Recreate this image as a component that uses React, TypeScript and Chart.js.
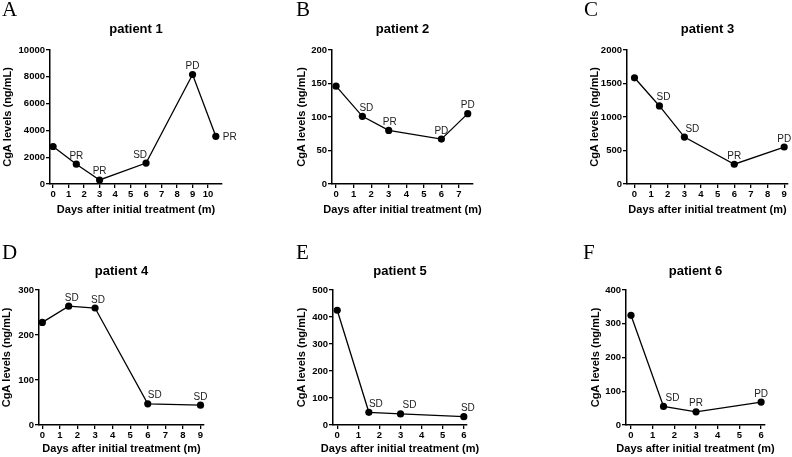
import React, { useEffect, useRef } from 'react';
import { Chart, registerables } from 'chart.js';
Chart.register(...registerables);

const FONT = "'Liberation Sans', Arial, Helvetica, sans-serif";
const SERIF = "'Liberation Serif', 'Times New Roman', serif";

// ---- data ----
const months1 = [0, 1.5, 3, 6, 9, 10.5];
const cga1 = [2800, 1480, 300, 1560, 8170, 3560];
const response1 = ['', 'PR', 'PR', 'SD', 'PD', 'PR'];
const xTicks1 = [0, 1, 2, 3, 4, 5, 6, 7, 8, 9, 10];
const yTicks1 = [0, 2000, 4000, 6000, 8000, 10000];

const months2 = [0, 1.5, 3, 6, 7.5];
const cga2 = [146, 101, 80, 67, 105];
const response2 = ['', 'SD', 'PR', 'PD', 'PD'];
const xTicks2 = [0, 1, 2, 3, 4, 5, 6, 7];
const yTicks2 = [0, 50, 100, 150, 200];

const months3 = [0, 1.5, 3, 6, 9];
const cga3 = [1585, 1165, 700, 295, 552];
const response3 = ['', 'SD', 'SD', 'PR', 'PD'];
const xTicks3 = [0, 1, 2, 3, 4, 5, 6, 7, 8, 9];
const yTicks3 = [0, 500, 1000, 1500, 2000];

const months4 = [0, 1.5, 3, 6, 9];
const cga4 = [228, 264, 260, 47, 44];
const response4 = ['', 'SD', 'SD', 'SD', 'SD'];
const xTicks4 = [0, 1, 2, 3, 4, 5, 6, 7, 8, 9];
const yTicks4 = [0, 100, 200, 300];

const months5 = [0, 1.5, 3, 6];
const cga5 = [425, 47, 41, 31];
const response5 = ['', 'SD', 'SD', 'SD'];
const xTicks5 = [0, 1, 2, 3, 4, 5, 6];
const yTicks5 = [0, 100, 200, 300, 400, 500];

const months6 = [0, 1.5, 3, 6];
const cga6 = [325, 55, 39, 68];
const response6 = ['', 'SD', 'PR', 'PD'];
const xTicks6 = [0, 1, 2, 3, 4, 5, 6];
const yTicks6 = [0, 100, 200, 300, 400];

const titles = ['patient 1', 'patient 2', 'patient 3', 'patient 4', 'patient 5', 'patient 6'];
const letters = ['A', 'B', 'C', 'D', 'E', 'F'];
const xTitle = 'Days after initial treatment (m)';
const yTitle = 'CgA levels (ng/mL)';

// ---- layout (not data) ----
type Layout = {
  col: number; row: number;
  l: number; r: number; t: number; b: number;
  xMin: number; xMax: number;
  yTitleX: number; xTitleY: number; titleY: number;
  letterX: number; letterY: number;
  nudge: (number | 'right')[];
};

const layouts: Layout[] = [
  { col: 0, row: 0, l: 50, r: 222, t: 50, b: 184, xMin: -0.2, xMax: 10.9, yTitleX: 8, xTitleY: 210, titleY: 33, letterX: 2, letterY: 16, nudge: [0, 0, 0, -6, 0, 'right'] },
  { col: 1, row: 0, l: 68, r: 209, t: 50, b: 184, xMin: -0.23, xMax: 7.8, yTitleX: 38, xTitleY: 210, titleY: 33, letterX: 32, letterY: 16, nudge: [0, 4, 1, 0, 0] },
  { col: 2, row: 0, l: 99, r: 260, t: 50, b: 184, xMin: -0.45, xMax: 9.23, yTitleX: 67, xTitleY: 210, titleY: 33, letterX: 56, letterY: 16, nudge: [0, 4, 8, 0, 0] },
  { col: 0, row: 1, l: 39, r: 204, t: 62, b: 197, xMin: -0.19, xMax: 9.2, yTitleX: 7, xTitleY: 221, titleY: 47, letterX: 2, letterY: 31, nudge: [0, 3, 3, 7, 0] },
  { col: 1, row: 1, l: 69, r: 203, t: 62, b: 197, xMin: -0.2, xMax: 6.15, yTitleX: 38, xTitleY: 221, titleY: 47, letterX: 32, letterY: 31, nudge: [0, 7, 9, 4] },
  { col: 2, row: 1, l: 98, r: 237, t: 62, b: 197, xMin: -0.23, xMax: 6.18, yTitleX: 68, xTitleY: 221, titleY: 47, letterX: 55, letterY: 31, nudge: [0, 9, 0, 0] },
];

const series = [
  { months: months1, cga: cga1, response: response1, xTicks: xTicks1, yTicks: yTicks1 },
  { months: months2, cga: cga2, response: response2, xTicks: xTicks2, yTicks: yTicks2 },
  { months: months3, cga: cga3, response: response3, xTicks: xTicks3, yTicks: yTicks3 },
  { months: months4, cga: cga4, response: response4, xTicks: xTicks4, yTicks: yTicks4 },
  { months: months5, cga: cga5, response: response5, xTicks: xTicks5, yTicks: yTicks5 },
  { months: months6, cga: cga6, response: response6, xTicks: xTicks6, yTicks: yTicks6 },
];

const W = 264;

function Panel({ idx }: { idx: number }) {
  const ref = useRef<HTMLCanvasElement>(null);
  const lay = layouts[idx];
  const s = series[idx];
  const H = lay.row === 0 ? 228 : 229;

  useEffect(() => {
    if (!ref.current) return;
    const lineH = 11 * 1.2;
    const annot = {
      id: 'annot' + idx,
      afterDraw(chart: any) {
        const ctx = chart.ctx;
        const { left, right } = chart.chartArea;
        ctx.save();
        ctx.fillStyle = '#000';
        ctx.font = `21px ${SERIF}`;
        ctx.textAlign = 'left';
        ctx.textBaseline = 'alphabetic';
        ctx.fillText(letters[idx], lay.letterX, lay.letterY);
        ctx.font = `bold 13px ${FONT}`;
        ctx.textAlign = 'center';
        ctx.fillText(titles[idx], (left + right) / 2, lay.titleY);
        ctx.font = `bold 11px ${FONT}`;
        ctx.textBaseline = 'middle';
        ctx.fillText(xTitle, (left + right) / 2, lay.xTitleY);
        const meta = chart.getDatasetMeta(0);
        ctx.font = `10px ${FONT}`;
        ctx.fillStyle = '#222';
        meta.data.forEach((pt: any, i: number) => {
          const txt = s.response[i];
          if (!txt) return;
          const nd = lay.nudge[i];
          if (nd === 'right') {
            ctx.textAlign = 'left';
            ctx.textBaseline = 'middle';
            ctx.fillText(txt, pt.x + 7, pt.y + 1);
          } else {
            ctx.textAlign = 'center';
            ctx.textBaseline = 'alphabetic';
            ctx.fillText(txt, pt.x + (nd as number), pt.y - 5.5);
          }
        });
        ctx.restore();
      },
    };

    const chart = new Chart(ref.current, {
      type: 'line',
      data: {
        datasets: [
          {
            data: s.months.map((m, i) => ({ x: m, y: s.cga[i] })),
            borderColor: '#000',
            borderWidth: 1.3,
            backgroundColor: '#000',
            pointBackgroundColor: '#000',
            pointBorderWidth: 0,
            pointRadius: 3.6,
            tension: 0,
            clip: false as any,
          },
        ],
      },
      options: {
        responsive: false,
        animation: false,
        devicePixelRatio: 1,
        layout: { padding: { top: lay.t, right: W - lay.r, left: 0, bottom: 0 } },
        plugins: { legend: { display: false }, title: { display: false }, tooltip: { enabled: false } },
        scales: {
          x: {
            type: 'linear',
            min: lay.xMin,
            max: lay.xMax,
            afterBuildTicks: (sc: any) => { sc.ticks = s.xTicks.map((v) => ({ value: v })); },
            afterFit: (sc: any) => { sc.height = H - lay.b; },
            ticks: {
              autoSkip: false, maxRotation: 0, padding: 1, color: '#000',
              font: { family: FONT, size: 9.5, weight: 'bold' },
              callback: (v: any) => String(v),
            },
            grid: { display: true, drawOnChartArea: false, drawTicks: true, tickLength: 4, color: '#000', lineWidth: 1.3 },
            border: { display: true, color: '#000', width: 1.5 },
            title: { display: false },
          },
          y: {
            type: 'linear',
            min: s.yTicks[0],
            max: s.yTicks[s.yTicks.length - 1],
            afterBuildTicks: (sc: any) => { sc.ticks = s.yTicks.map((v) => ({ value: v })); },
            afterFit: (sc: any) => { sc.width = lay.l; },
            ticks: {
              padding: 1, color: '#000',
              font: { family: FONT, size: 9.5, weight: 'bold' },
              callback: (v: any) => String(v),
            },
            grid: { display: true, drawOnChartArea: false, drawTicks: true, tickLength: 4, color: '#000', lineWidth: 1.3 },
            border: { display: true, color: '#000', width: 1.5 },
            title: {
              display: true, text: yTitle, color: '#000',
              font: { family: FONT, size: 11, weight: 'bold' },
              padding: { top: lay.yTitleX - lineH / 2, bottom: 0 },
            },
          },
        },
      } as any,
      plugins: [annot],
    });
    return () => chart.destroy();
  }, [idx]);

  return (
    <canvas
      ref={ref}
      width={W}
      height={H}
      style={{ position: 'absolute', left: lay.col * W, top: lay.row * 228, width: W, height: H }}
    />
  );
}

export default function App() {
  return (
    <div style={{ position: 'absolute', left: 0, top: 0, width: 792, height: 457, background: '#fff', overflow: 'hidden' }}>
      {layouts.map((_, i) => (
        <Panel key={i} idx={i} />
      ))}
    </div>
  );
}
